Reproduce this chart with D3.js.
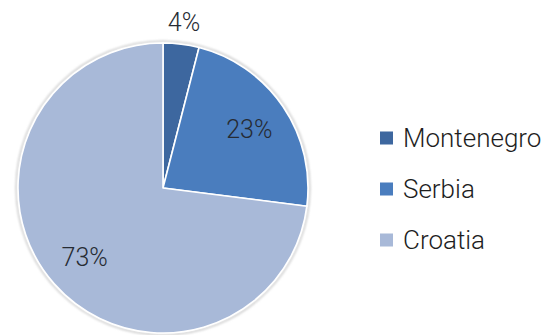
<!DOCTYPE html>
<html>
<head>
<meta charset="utf-8">
<script src="https://cdn.jsdelivr.net/npm/d3@7"></script>
<style>
  html, body { margin: 0; padding: 0; background: #fff; }
  svg { display: block; }
  text { font-family: Roboto, "DejaVu Sans", sans-serif; font-weight: 300; }
</style>
</head>
<body>
<svg id="chart" width="554" height="335"></svg>
<script>
// Share of total by country
const countries = ["Montenegro", "Serbia", "Croatia"];
const shares = [4, 23, 73];
const sliceColors = ["#3d679f", "#4a7dbe", "#a8b9d8"];

const width = 554, height = 335;
const cx = 163, cy = 188, radius = 145;

const svg = d3.select("#chart");

// soft edge shadow around the pie
const defs = svg.append("defs");
defs.append("filter").attr("id", "soft")
  .attr("x", "-10%").attr("y", "-10%").attr("width", "120%").attr("height", "120%")
  .append("feGaussianBlur").attr("stdDeviation", 0.9);

const g = svg.append("g").attr("transform", `translate(${cx},${cy})`);

g.append("circle")
  .attr("r", radius + 1.8)
  .attr("fill", "none")
  .attr("stroke", "#c9c9c9")
  .attr("stroke-width", 1.6)
  .attr("filter", "url(#soft)");

const pie = d3.pie().sort(null).value(d => d.value);
const data = countries.map((c, i) => ({ name: c, value: shares[i] }));
const arcs = pie(data);

const arc = d3.arc().innerRadius(0).outerRadius(radius);

g.selectAll("path.slice")
  .data(arcs)
  .join("path")
  .attr("class", "slice")
  .attr("d", arc)
  .attr("fill", (d, i) => sliceColors[i])
  .attr("stroke", "#ffffff")
  .attr("stroke-width", 1.6)
  .attr("stroke-linejoin", "round");

// value labels: the small slice is labelled outside the pie
const labelRadius = d => (d.data.value < 10 ? radius + 22 : radius * 0.72);
g.selectAll("text.val")
  .data(arcs)
  .join("text")
  .attr("class", "val")
  .attr("transform", d => {
    const a = (d.startAngle + d.endAngle) / 2;
    const r = labelRadius(d);
    return `translate(${r * Math.sin(a)},${-r * Math.cos(a)})`;
  })
  .attr("text-anchor", "middle")
  .attr("dy", "0.36em")
  .attr("font-size", 25)
  .attr("fill", "#262b33")
  .text(d => d.data.value + "%");

// legend
const legend = svg.append("g").attr("transform", "translate(380,138)");
const rowGap = 51;
const item = legend.selectAll("g.item")
  .data(countries)
  .join("g")
  .attr("class", "item")
  .attr("transform", (d, i) => `translate(0,${i * rowGap})`);

item.append("rect")
  .attr("x", 0).attr("y", -6.5)
  .attr("width", 13).attr("height", 13)
  .attr("fill", (d, i) => sliceColors[i]);

item.append("text")
  .attr("x", 23)
  .attr("dy", "0.36em")
  .attr("font-size", 26)
  .attr("fill", "#1e1e1e")
  .text(d => d);
</script>
</body>
</html>
